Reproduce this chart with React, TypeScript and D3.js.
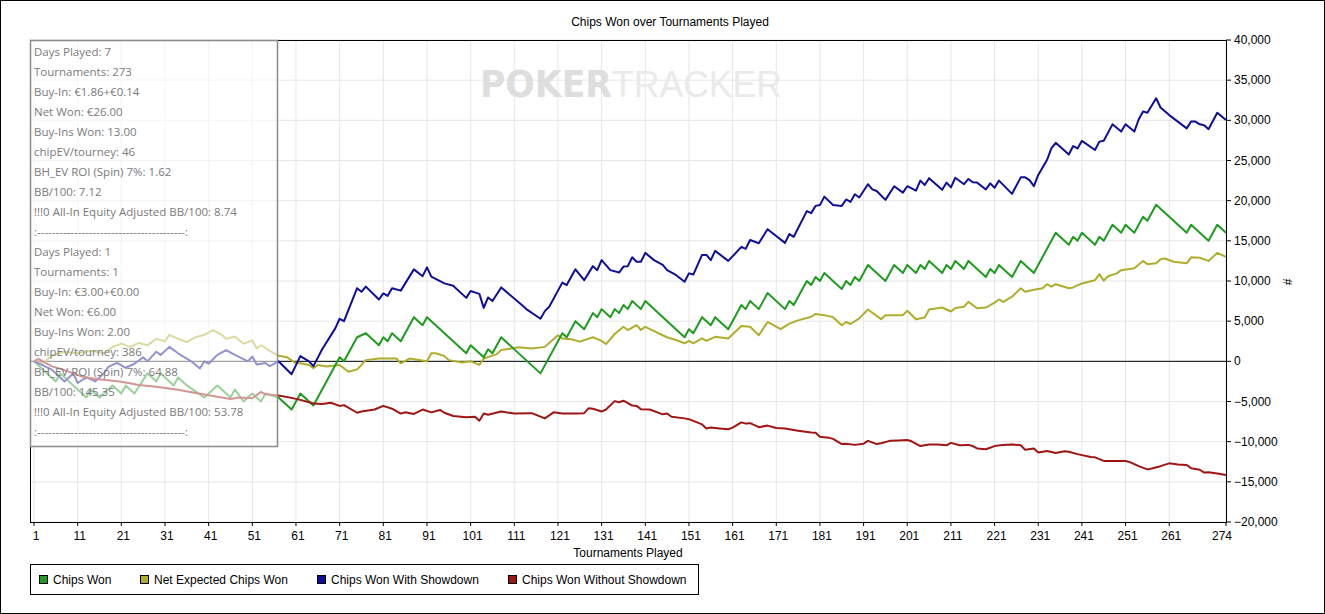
import React from 'react';
import * as d3 from 'd3';

// chart values (tournament number, chips)
const chipsWon: [number, number][] = [
  [1, 0], [6, -2500], [7, -1500], [13, -4500], [14, -3500], [16, -4500], [19, -3000], [21, -4000],
  [22, -3000], [24, -4000], [27, -1500], [29, -2500], [30, -1500], [33, -3000], [34, -2000], [36, -3000],
  [40, -4500], [43, -3000], [46, -4500], [47, -3500], [49, -5000], [51, -4000], [53, -5000], [54, -4000],
  [57, -4500], [60, -6000], [62, -4000], [65, -5500], [71, 500], [72, 0], [75, 3000], [77, 3500],
  [80, 2000], [81, 3000], [82, 2500], [83, 3500], [85, 2500], [88, 5500], [90, 4500], [91, 5500],
  [100, 1000], [101, 2000], [104, 500], [105, 1500], [106, 1000], [108, 3000], [117, -1500], [122, 3500],
  [123, 3000], [125, 5000], [127, 4000], [129, 6000], [130, 5500], [131, 6500], [133, 5500], [134, 6500],
  [135, 6000], [136, 7000], [137, 6500], [138, 7500], [140, 6500], [141, 7500], [150, 3000], [151, 4000],
  [152, 3500], [154, 5500], [156, 4500], [157, 5500], [160, 4000], [163, 7000], [164, 6500], [165, 7500],
  [167, 6500], [169, 8500], [173, 6500], [174, 7500], [175, 7000], [178, 10000], [179, 9500], [180, 10500],
  [181, 10000], [182, 11000], [186, 9000], [187, 10000], [188, 9500], [189, 10500], [190, 10000], [192, 12000],
  [196, 10000], [198, 12000], [200, 11000], [201, 12000], [203, 11000], [204, 12000], [205, 11500], [206, 12500],
  [209, 11000], [210, 12000], [211, 11500], [212, 12500], [214, 11500], [215, 12500], [219, 10500], [220, 11500],
  [221, 11000], [222, 12000], [225, 10500], [227, 12500], [230, 11000], [235, 16000], [238, 14500], [239, 15500],
  [240, 15000], [241, 16000], [244, 14500], [245, 15500], [246, 15000], [248, 17000], [250, 16000], [251, 17000],
  [253, 16000], [255, 18000], [256, 17500], [258, 19500], [265, 16000], [266, 17000], [270, 15000], [272, 17000],
  [274, 16000],
];

const netExpected: [number, number][] = [
  [1, 0], [3, -300], [5, 700], [8, 1200], [11, 1000], [14, 1300], [17, 1000], [19, 1800], [21, 2200],
  [23, 1800], [25, 2300], [27, 2000], [29, 2800], [31, 2500], [32, 3300], [34, 2800], [36, 2400], [38, 3000],
  [40, 3300], [42, 3900], [44, 3300], [45, 2800], [47, 3100], [49, 2200], [51, 2600], [52, 1600], [53, 2000],
  [55, 1300], [57, 700], [59, 500], [61, -250], [62, -250], [64, -450], [65, -850], [66, -450], [68, -650],
  [71, -450], [73, -1300], [75, -1000], [76, -450], [77, 150], [80, 350], [84, 350], [85, -250], [87, 350],
  [91, 0], [92, 1000], [93, 1000], [95, 650], [96, 150], [99, -150], [101, 0], [103, -450], [104, 350],
  [107, 900], [108, 1400], [112, 1750], [115, 1600], [118, 1800], [121, 3250], [122, 2850], [124, 2750],
  [126, 2450], [129, 3000], [131, 2550], [132, 2150], [134, 3400], [136, 4300], [137, 3900], [139, 4500],
  [140, 3900], [141, 4300], [144, 3500], [146, 3000], [148, 2650], [150, 2250], [151, 2550], [152, 2250],
  [154, 2850], [155, 2550], [157, 3050], [160, 2850], [163, 4400], [165, 4300], [167, 3250], [169, 4900],
  [172, 4000], [174, 4700], [176, 5100], [179, 5550], [180, 5900], [182, 5750], [184, 5500], [186, 4500],
  [187, 4900], [188, 4650], [190, 5350], [192, 6450], [195, 5250], [196, 5750], [200, 5750], [201, 6300],
  [203, 5250], [205, 5450], [206, 6450], [209, 6700], [211, 6200], [212, 6650], [214, 6800], [215, 7400],
  [217, 6600], [219, 6700], [221, 7300], [222, 7700], [223, 7400], [225, 8050], [227, 9100], [228, 8650],
  [230, 8900], [232, 9100], [233, 9600], [234, 9300], [235, 9600], [238, 9100], [239, 9200], [241, 9700],
  [244, 10100], [245, 10850], [246, 10050], [247, 10600], [249, 10950], [250, 11350], [253, 11600],
  [255, 12500], [256, 12100], [258, 12200], [259, 12700], [260, 12800], [262, 12400], [265, 12200],
  [266, 12950], [268, 12900], [270, 12500], [272, 13500], [274, 13000],
];

const withShowdown: [number, number][] = [
  [1, 0], [5, -1000], [8, -2500], [10, -1500], [11, -2700], [13, -2000], [15, -2500], [17, -1500],
  [18, -700], [20, -200], [22, -800], [24, -300], [26, 500], [27, 0], [29, 1200], [30, 800], [32, 1800],
  [34, 1000], [37, 0], [39, -900], [40, 0], [41, -300], [43, 800], [45, 1400], [47, 800], [50, 0],
  [51, 600], [52, -400], [54, -200], [55, -600], [57, 0], [60, -1600], [62, 650], [64, 0], [65, -600],
  [67, 1500], [70, 4100], [71, 5300], [72, 5000], [75, 9100], [76, 8650], [77, 9300], [80, 7700],
  [81, 8450], [82, 8150], [83, 9100], [85, 8800], [88, 11450], [90, 10600], [91, 11700], [92, 10550],
  [95, 9700], [97, 9400], [100, 7900], [101, 8750], [103, 8400], [104, 6650], [105, 7950], [106, 7500],
  [108, 9200], [113, 6900], [114, 6400], [117, 5300], [118, 6250], [119, 6800], [122, 9800], [123, 9500],
  [125, 11450], [127, 10100], [129, 11850], [130, 11350], [131, 12600], [133, 11350], [135, 11050],
  [136, 11800], [137, 11850], [138, 12950], [139, 12400], [140, 12400], [141, 13500], [143, 12600],
  [145, 12000], [146, 11350], [148, 10750], [150, 9900], [151, 10950], [152, 10800], [154, 13250],
  [155, 13250], [156, 12600], [157, 13750], [160, 12500], [162, 13650], [163, 14250], [164, 14000],
  [165, 15100], [167, 14700], [169, 16450], [173, 14750], [174, 15850], [175, 15500], [178, 18700],
  [179, 18450], [180, 19350], [181, 19450], [182, 20500], [184, 19450], [186, 19350], [187, 20150],
  [188, 19850], [189, 20800], [190, 20400], [192, 22050], [193, 21400], [194, 21200], [196, 20100],
  [198, 21800], [200, 21000], [201, 21800], [203, 21250], [204, 22500], [205, 21950], [206, 22800],
  [209, 21350], [210, 22250], [211, 21650], [212, 22850], [214, 22050], [215, 22700], [216, 22300],
  [217, 22250], [219, 21400], [220, 22150], [221, 21600], [222, 22500], [225, 20850], [227, 22900],
  [228, 22900], [229, 22550], [230, 21800], [231, 23200], [233, 25050], [234, 26500], [235, 27200],
  [238, 25750], [239, 26800], [240, 26500], [241, 27450], [244, 26300], [245, 27350], [246, 27450],
  [248, 29500], [250, 28600], [251, 29500], [253, 28600], [254, 30100], [255, 31100], [256, 30950],
  [258, 32750], [259, 31600], [261, 30650], [265, 29000], [266, 29850], [267, 29850], [268, 29500],
  [269, 29400], [270, 28900], [272, 30950], [274, 30050],
];

const withoutShowdown: [number, number][] = [
  [1, 0], [2, 300], [5, -600], [8, -1100], [12, -1900], [15, -2200], [18, -2350], [21, -2550],
  [25, -2950], [29, -3150], [34, -3550], [38, -3950], [43, -4400], [46, -4700], [48, -4500], [51, -4600],
  [53, -3800], [54, -4100], [57, -4250], [60, -4550], [62, -4800], [65, -5250], [67, -5300], [69, -5150],
  [71, -5550], [72, -5450], [75, -6400], [76, -6250], [79, -6000], [81, -5550], [83, -5900], [85, -6500],
  [86, -6350], [88, -6550], [90, -6000], [92, -6350], [94, -6050], [95, -6400], [97, -6800], [100, -6950],
  [102, -6900], [103, -7400], [104, -6500], [105, -6650], [108, -6250], [111, -6500], [115, -6450],
  [118, -7100], [120, -6350], [122, -6500], [125, -6500], [127, -6450], [128, -5850], [129, -5900],
  [131, -6250], [132, -6000], [134, -4950], [135, -5100], [136, -4900], [138, -5500], [139, -5550],
  [140, -5950], [142, -6000], [145, -6600], [146, -6500], [147, -6900], [150, -7100], [151, -7200],
  [154, -7850], [155, -8350], [156, -8250], [158, -8350], [160, -8450], [161, -8250], [163, -7600],
  [164, -7750], [165, -7700], [167, -8200], [169, -8000], [171, -8300], [173, -8350], [176, -8650],
  [179, -8850], [180, -8900], [181, -9400], [183, -9500], [184, -9650], [186, -10300], [187, -10250],
  [189, -10400], [191, -10250], [192, -9900], [194, -10300], [195, -10200], [197, -9900], [199, -9850],
  [201, -9800], [202, -9950], [204, -10550], [206, -10350], [208, -10350], [210, -10450], [211, -10150],
  [213, -10450], [215, -10400], [216, -10550], [217, -10850], [219, -10950], [221, -10550], [223, -10400],
  [225, -10350], [227, -10450], [228, -11000], [230, -10850], [231, -11350], [233, -11150], [235, -11400],
  [237, -11200], [238, -11250], [240, -11550], [243, -11900], [244, -11950], [246, -12400], [248, -12400],
  [251, -12400], [252, -12550], [254, -13050], [256, -13450], [257, -13350], [259, -13050], [261, -12700],
  [263, -12850], [265, -12900], [266, -13300], [268, -13500], [269, -13850], [270, -13800], [272, -13950],
  [274, -14150],
];

const xTicks = [1, 11, 21, 31, 41, 51, 61, 71, 81, 91, 101, 111, 121, 131, 141, 151, 161, 171, 181, 191,
  201, 211, 221, 231, 241, 251, 261, 274];
const yTicks = [-20000, -15000, -10000, -5000, 0, 5000, 10000, 15000, 20000, 25000, 30000, 35000, 40000];

const seriesNames = ['Chips Won', 'Net Expected Chips Won', 'Chips Won With Showdown', 'Chips Won Without Showdown'];
const seriesColors = ['#1f9b1f', '#b0ad2c', '#0e0e98', '#a01414'];

const dashes = ':' + '-'.repeat(40) + ':';
const statsLines = [
  'Days Played: 7',
  'Tournaments: 273',
  'Buy-In: €1.86+€0.14',
  'Net Won: €26.00',
  'Buy-Ins Won: 13.00',
  'chipEV/tourney: 46',
  'BH_EV ROI (Spin) 7%: 1.62',
  'BB/100: 7.12',
  '!!!0 All-In Equity Adjusted BB/100: 8.74',
  dashes,
  'Days Played: 1',
  'Tournaments: 1',
  'Buy-In: €3.00+€0.00',
  'Net Won: €6.00',
  'Buy-Ins Won: 2.00',
  'chipEV/tourney: 386',
  'BH_EV ROI (Spin) 7%: 64.88',
  'BB/100: 145.35',
  '!!!0 All-In Equity Adjusted BB/100: 53.78',
  dashes,
];

const W = 1325;
const H = 614;
const left = 30;
const right = 1226;
const top = 40;
const bottom = 522;
const font = '"Liberation Sans", Arial, sans-serif';

const App: React.FC = () => {
  const x = d3.scaleLinear().domain([1, 274]).range([34, right]);
  const y = d3.scaleLinear().domain([-20000, 40000]).range([bottom, top]);
  const line = d3.line<[number, number]>().x((d) => x(d[0])).y((d) => y(d[1]));
  const fmt = d3.format(',');
  const allSeries = [chipsWon, netExpected, withShowdown, withoutShowdown];
  const drawOrder = [1, 0, 2, 3];
  const legendX = [39, 140, 317, 508];

  return (
    <>
      <style>{'body{margin:0}'}</style>
      <svg width={W} height={H} style={{ display: 'block', fontFamily: font }}>
        <rect x={0.5} y={0.5} width={W - 1} height={H - 1} fill="#fff" stroke="#000" />
        <text x={670} y={26} textAnchor="middle" fontSize={12}>Chips Won over Tournaments Played</text>

        {/* grid */}
        {xTicks.map((t) => (
          <line key={'gx' + t} x1={x(t)} x2={x(t)} y1={top} y2={bottom} stroke="#e6e6e6" />
        ))}
        {yTicks.map((v) => (
          <line key={'gy' + v} x1={left} x2={right} y1={y(v)} y2={y(v)} stroke="#e6e6e6" />
        ))}

        {/* watermark */}
        <text x={480} y={97} fontSize={37} fontWeight="bold" fill="#dedede" textLength={132}
          lengthAdjust="spacingAndGlyphs" fontFamily='"DejaVu Sans Condensed", "DejaVu Sans", sans-serif'>POKER</text>
        <text x={612} y={97} fontSize={37} fill="#eaeaea" textLength={170}
          lengthAdjust="spacingAndGlyphs" fontFamily='"Liberation Sans Narrow", "Liberation Sans", sans-serif'>TRACKER</text>

        <line x1={left} x2={right} y1={y(0)} y2={y(0)} stroke="#000" />

        {drawOrder.map((i) => (
          <path key={'s' + i} d={line(allSeries[i]) || ''} fill="none" stroke={seriesColors[i]}
            strokeWidth={2} strokeLinejoin="round" />
        ))}

        {/* frame and axes */}
        <rect x={left + 0.5} y={top + 0.5} width={right - left} height={bottom - top} fill="none" stroke="#000" />
        {yTicks.map((v) => (
          <g key={'yt' + v}>
            <line x1={right} x2={right + 5} y1={y(v)} y2={y(v)} stroke="#000" />
            <text x={right + 8} y={y(v) + 4} fontSize={12}>{fmt(v)}</text>
          </g>
        ))}
        {xTicks.map((t) => (
          <g key={'xt' + t}>
            <line x1={x(t)} x2={x(t)} y1={bottom} y2={bottom + 4} stroke="#000" />
            <text x={t === 274 ? x(t) - 4 : x(t) + 2} y={540} fontSize={12} textAnchor="middle">{t}</text>
          </g>
        ))}
        <text x={628} y={557} fontSize={12} textAnchor="middle">Tournaments Played</text>
        <text x={1289} y={282} fontSize={12} textAnchor="middle" dominantBaseline="middle"
          transform="rotate(-90 1289 282)">#</text>

        {/* stats overlay */}
        <rect x={30.5} y={40.5} width={247} height={406} fill="#fff" fillOpacity={0.55} stroke="#8a8a8a" strokeWidth={1.5} />
        {statsLines.map((s, i) => (
          <text key={'st' + i} x={34} y={56 + i * 20} fontSize={11.5} fill="#7a7a7a"
            fontFamily='"Open Sans", "Noto Sans", sans-serif'>{s}</text>
        ))}

        {/* legend */}
        <rect x={30.5} y={564.5} width={668} height={30} fill="#fff" stroke="#000" />
        {seriesNames.map((n, i) => (
          <g key={'lg' + i}>
            <rect x={legendX[i] + 0.5} y={575.5} width={8} height={8} fill={seriesColors[i]} stroke="#000" />
            <text x={legendX[i] + 14} y={584} fontSize={12}>{n}</text>
          </g>
        ))}
      </svg>
    </>
  );
};

export default App;
